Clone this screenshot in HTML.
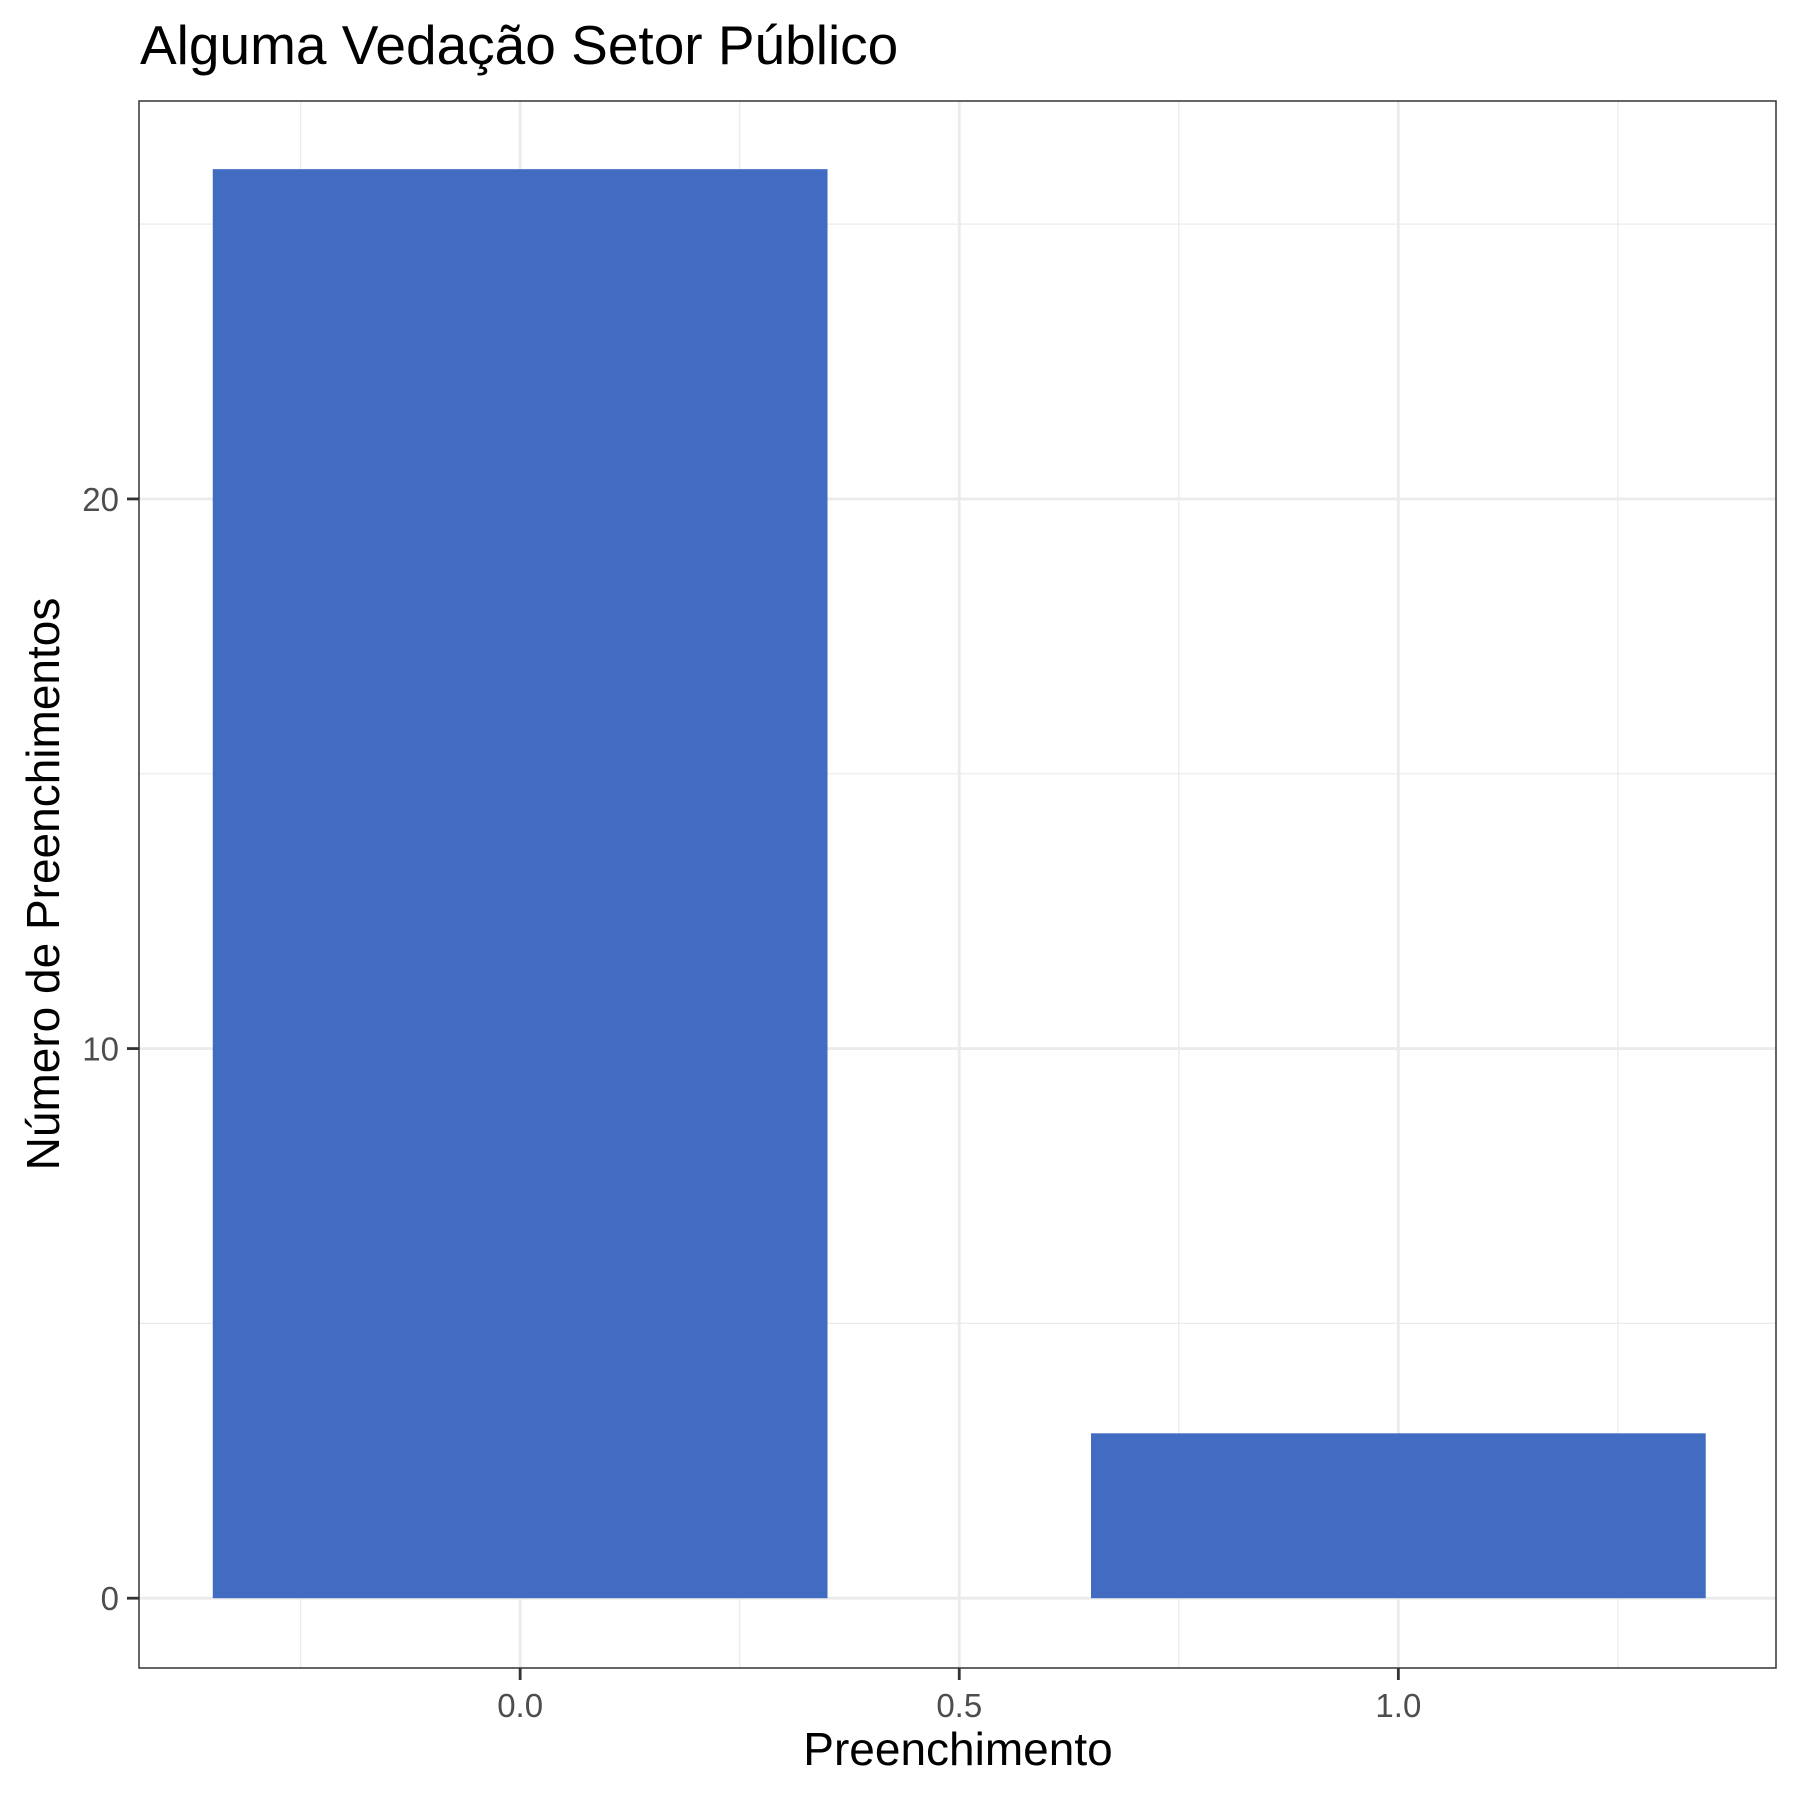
<!DOCTYPE html>
<html><head><meta charset="utf-8"><style>body{margin:0;background:#fff}svg{display:block}</style></head>
<body>
<svg id="chart" width="1800" height="1800" xmlns="http://www.w3.org/2000/svg" font-family="'Liberation Sans', sans-serif">
<rect width="1800" height="1800" fill="#fff"/>
<text x="140" y="64" font-size="55" fill="#000">Alguma Vedação Setor Público</text>
<g id="grid"></g>
<g id="bars"></g>
<rect x="139" y="101" width="1637" height="1567" fill="none" stroke="#333" stroke-width="1.5"/>
<g id="axes"></g>
<text x="958" y="1765" font-size="46" text-anchor="middle" fill="#000">Preenchimento</text>
<text transform="translate(59,884) rotate(-90)" font-size="46" text-anchor="middle" fill="#000">Número de Preenchimentos</text>
</svg>
<script>
const categories = [0, 1];
const counts = [26, 3];
const xTicks = [0, 0.5, 1];
const xTickLabels = ["0.0", "0.5", "1.0"];
const xMinor = [-0.25, 0.25, 0.75, 1.25];
const yTicks = [0, 10, 20];
const yTickLabels = ["0", "10", "20"];
const yMinor = [5, 15, 25];

const L=139,R=1776,T=101,B=1668;
const xMin=-0.434,xMax=1.430,yMin=-1.27,yMax=27.24;
const sx=v=>L+(v-xMin)/(xMax-xMin)*(R-L);
const sy=v=>B-(v-yMin)/(yMax-yMin)*(B-T);
const NS="http://www.w3.org/2000/svg";
function mk(tag,attrs,parent){const e=document.createElementNS(NS,tag);for(const k in attrs)e.setAttribute(k,attrs[k]);parent.appendChild(e);return e;}
const grid=document.getElementById('grid'),bars=document.getElementById('bars'),axes=document.getElementById('axes');
yMinor.forEach(v=>{const e=mk('line',{x1:L,x2:R,y1:sy(v),y2:sy(v),stroke:'#ebebeb','stroke-width':1.3},grid);

});
xMinor.forEach(v=>{const e=mk('line',{x1:sx(v),x2:sx(v),y1:T,y2:B,stroke:'#ebebeb','stroke-width':1.3},grid);

});
yTicks.forEach((v,i)=>{const e=mk('line',{x1:L,x2:R,y1:sy(v),y2:sy(v),stroke:'#ebebeb','stroke-width':2.8},grid);


const t=mk('line',{x1:L-12,x2:L,y1:sy(v),y2:sy(v),stroke:'#333','stroke-width':2.8},axes);


const l=mk('text',{x:L-20,y:sy(v)+12,'font-size':33,'text-anchor':'end',fill:'#4d4d4d'},axes);l.textContent=yTickLabels[i];

});
xTicks.forEach((v,i)=>{const e=mk('line',{x1:sx(v),x2:sx(v),y1:T,y2:B,stroke:'#ebebeb','stroke-width':2.8},grid);


const t=mk('line',{x1:sx(v),x2:sx(v),y1:B,y2:B+12,stroke:'#333','stroke-width':2.8},axes);


const l=mk('text',{x:sx(v),y:B+49,'font-size':33,'text-anchor':'middle',fill:'#4d4d4d'},axes);l.textContent=xTickLabels[i];

});
categories.forEach((c,i)=>{const x0=sx(c-0.35),x1=sx(c+0.35),y0=sy(counts[i]),y1=sy(0);
const b=mk('rect',{x:x0,y:y0,width:x1-x0,height:y1-y0,fill:'#416cc2'},bars);

});
</script>
</body></html>
